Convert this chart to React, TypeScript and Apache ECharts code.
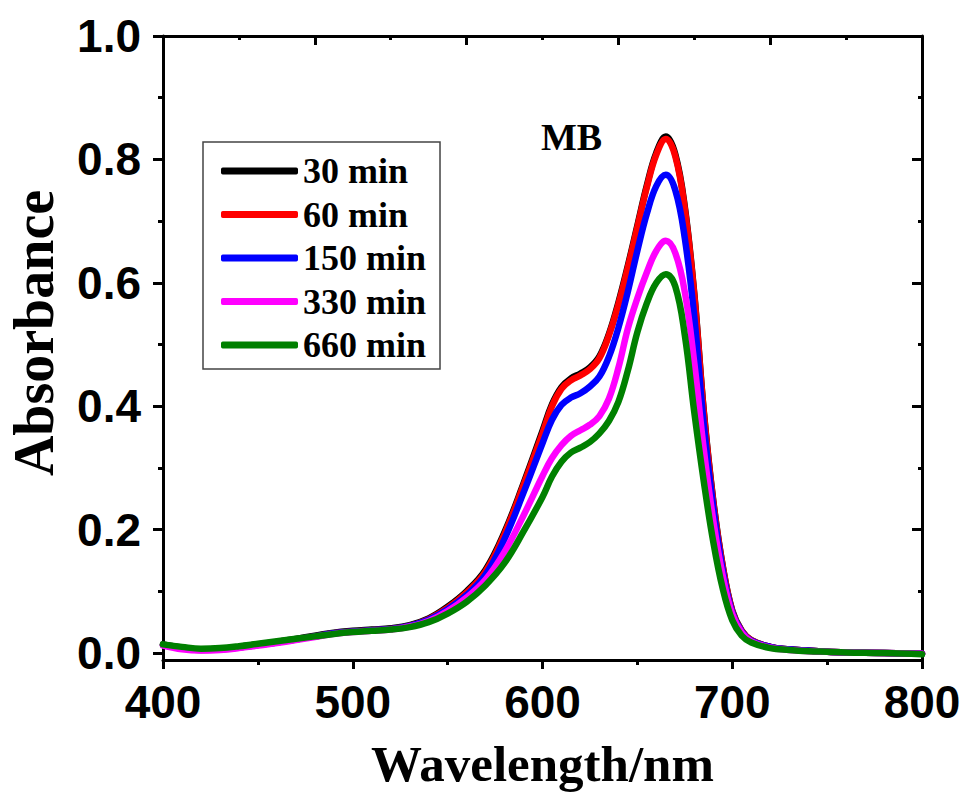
import React, { useEffect, useRef } from 'react';
import * as echarts from 'echarts';

const wavelengths = [400, 410, 420, 430, 440, 450, 460, 470, 480, 490, 500, 510, 520, 530, 540, 550, 560, 570, 580, 590, 600, 605, 610, 615, 620, 625, 630, 635, 640, 645, 650, 655, 660, 665, 670, 675, 680, 685, 690, 695, 700, 705, 710, 720, 730, 740, 750, 760, 780, 800];

const min30 = [0.014, 0.009, 0.006, 0.007, 0.01, 0.014, 0.018, 0.023, 0.028, 0.033, 0.036, 0.038, 0.04, 0.045, 0.056, 0.075, 0.1, 0.135, 0.196, 0.275, 0.36, 0.403, 0.431, 0.445, 0.453, 0.463, 0.481, 0.517, 0.568, 0.628, 0.693, 0.758, 0.811, 0.837, 0.808, 0.723, 0.582, 0.392, 0.247, 0.141, 0.069, 0.036, 0.021, 0.01, 0.006, 0.004, 0.002, 0.001, 0.0, -0.001];
const min60 = [0.013, 0.008, 0.005, 0.006, 0.009, 0.013, 0.017, 0.022, 0.027, 0.032, 0.035, 0.037, 0.039, 0.044, 0.055, 0.073, 0.098, 0.132, 0.193, 0.272, 0.356, 0.4, 0.428, 0.442, 0.45, 0.46, 0.478, 0.515, 0.565, 0.625, 0.69, 0.755, 0.808, 0.833, 0.805, 0.72, 0.58, 0.39, 0.245, 0.14, 0.068, 0.036, 0.021, 0.01, 0.006, 0.004, 0.002, 0.001, 0.0, -0.001];
const min150 = [0.013, 0.008, 0.005, 0.006, 0.009, 0.013, 0.017, 0.022, 0.027, 0.032, 0.035, 0.037, 0.039, 0.044, 0.054, 0.071, 0.094, 0.127, 0.185, 0.26, 0.34, 0.378, 0.402, 0.414, 0.421, 0.432, 0.448, 0.48, 0.527, 0.586, 0.652, 0.712, 0.757, 0.775, 0.75, 0.672, 0.545, 0.37, 0.236, 0.134, 0.066, 0.035, 0.02, 0.01, 0.006, 0.004, 0.002, 0.001, 0.0, -0.001];
const min330 = [0.012, 0.006, 0.004, 0.005, 0.008, 0.012, 0.016, 0.021, 0.026, 0.031, 0.034, 0.036, 0.038, 0.043, 0.052, 0.068, 0.09, 0.119, 0.164, 0.223, 0.287, 0.316, 0.337, 0.352, 0.361, 0.37, 0.384, 0.412, 0.462, 0.526, 0.575, 0.617, 0.652, 0.668, 0.648, 0.585, 0.47, 0.33, 0.215, 0.125, 0.063, 0.033, 0.019, 0.009, 0.005, 0.003, 0.002, 0.001, 0.0, -0.001];
const min660 = [0.014, 0.01, 0.007, 0.008, 0.011, 0.015, 0.019, 0.023, 0.027, 0.031, 0.034, 0.036, 0.038, 0.042, 0.05, 0.064, 0.083, 0.11, 0.146, 0.197, 0.253, 0.286, 0.31, 0.325, 0.333, 0.342, 0.356, 0.376, 0.407, 0.458, 0.52, 0.567, 0.6, 0.614, 0.594, 0.515, 0.39, 0.278, 0.18, 0.104, 0.053, 0.028, 0.017, 0.008, 0.005, 0.003, 0.002, 0.001, 0.0, -0.002];

const seriesNames = ['30 min', '60 min', '150 min', '330 min', '660 min'];
const seriesColors = ['#000000', '#ff0000', '#0000ff', '#ff00ff', '#008000'];
const seriesValues = [min30, min60, min150, min330, min660];

const yMajorTicks = [0, 0.2, 0.4, 0.6, 0.8, 1.0];
const yMinorTicks = [0.1, 0.3, 0.5, 0.7, 0.9];

const SANS = '"Liberation Sans", Arial, sans-serif';
const SERIF = '"Liberation Serif", "Times New Roman", serif';

export default function App() {
  const ref = useRef<HTMLDivElement>(null);
  useEffect(() => {
    if (!ref.current) return;
    const chart = echarts.init(ref.current, null, { renderer: 'svg' });
    const yMin = -0.0113;
    const yMax = 1.0;
    const baseY = {
      type: 'value',
      min: yMin,
      max: yMax,
      splitLine: { show: false },
    };
    chart.setOption({
      animation: false,
      backgroundColor: '#ffffff',
      grid: { left: 163, right: 46, top: 36, bottom: 134, containLabel: false },
      legend: {
        data: seriesNames,
        orient: 'vertical',
        left: 203,
        top: 142,
        padding: [11, 14, 6, 18],
        itemWidth: 77,
        itemHeight: 7,
        itemGap: 7.5,
        icon: 'roundRect',
        borderColor: '#444',
        borderWidth: 1.5,
        textStyle: { fontFamily: SERIF, fontWeight: 'bold', fontSize: 36, color: '#000' },
      },
      graphic: [
        {
          type: 'text',
          left: 541,
          top: 118,
          style: { text: 'MB', fontFamily: SERIF, fontWeight: 'bold', fontSize: 38, fill: '#000' },
        },
        {
          type: 'text',
          x: 34,
          y: 333,
          rotation: Math.PI / 2,
          style: {
            text: 'Absorbance',
            fontFamily: SERIF,
            fontWeight: 'bold',
            fontSize: 56,
            fill: '#000',
            align: 'center',
            verticalAlign: 'middle',
          },
        },
      ],
      xAxis: [
        {
          type: 'value',
          position: 'bottom',
          min: 400,
          max: 800,
          interval: 100,
          name: 'Wavelength/nm',
          nameLocation: 'middle',
          nameGap: 78,
          nameTextStyle: { fontFamily: SERIF, fontWeight: 'bold', fontSize: 51, color: '#000' },
          axisLine: { show: true, onZero: false, lineStyle: { color: '#000', width: 3 } },
          axisTick: { show: true, inside: false, length: 9, lineStyle: { color: '#000', width: 3 } },
          minorTick: { show: true, splitNumber: 2, length: 5, lineStyle: { color: '#000', width: 3 } },
          axisLabel: { margin: 19, fontFamily: SANS, fontWeight: 'bold', fontSize: 46, color: '#000' },
          splitLine: { show: false },
        },
        {
          type: 'value',
          position: 'top',
          min: 400,
          max: 800,
          interval: 80,
          axisLine: { show: true, onZero: false, lineStyle: { color: '#000', width: 3 } },
          axisTick: { show: true, inside: true, length: 9, lineStyle: { color: '#000', width: 3 } },
          minorTick: { show: true, splitNumber: 2, length: 4, lineStyle: { color: '#000', width: 3 } },
          axisLabel: { show: false },
          splitLine: { show: false },
        },
      ],
      yAxis: [
        {
          ...baseY,
          position: 'left',
          axisLine: { show: true, onZero: false, lineStyle: { color: '#000', width: 3 } },
          axisTick: { show: true, inside: false, length: 10, customValues: yMajorTicks, lineStyle: { color: '#000', width: 3 } },
          axisLabel: {
            margin: 22,
            customValues: yMajorTicks,
            formatter: (v: number) => v.toFixed(1),
            fontFamily: SANS,
            fontWeight: 'bold',
            fontSize: 46,
            color: '#000',
          },
        },
        {
          ...baseY,
          position: 'left',
          axisLine: { show: false, onZero: false },
          axisTick: { show: true, inside: false, length: 5, customValues: yMinorTicks, lineStyle: { color: '#000', width: 3 } },
          axisLabel: { show: false },
        },
        {
          ...baseY,
          position: 'right',
          axisLine: { show: true, onZero: false, lineStyle: { color: '#000', width: 3 } },
          axisTick: { show: true, inside: true, length: 10, customValues: yMajorTicks, lineStyle: { color: '#000', width: 3 } },
          axisLabel: { show: false },
        },
        {
          ...baseY,
          position: 'right',
          axisLine: { show: false, onZero: false },
          axisTick: { show: true, inside: true, length: 4, customValues: yMinorTicks, lineStyle: { color: '#000', width: 3 } },
          axisLabel: { show: false },
        },
      ],
      series: seriesNames.map((name, k) => ({
        name,
        type: 'line',
        xAxisIndex: 0,
        yAxisIndex: 0,
        data: wavelengths.map((w, i) => [w, seriesValues[k][i]]),
        smooth: 0.4,
        showSymbol: false,
        symbol: 'none',
        clip: false,
        color: seriesColors[k],
        lineStyle: { color: seriesColors[k], width: 6.5, cap: 'round', join: 'round' },
        z: 2 + k,
      })),
    });
    return () => chart.dispose();
  }, []);
  return (
    <div
      ref={ref}
      style={{ position: 'fixed', left: 0, top: 0, width: 968, height: 794, background: '#fff' }}
    />
  );
}
